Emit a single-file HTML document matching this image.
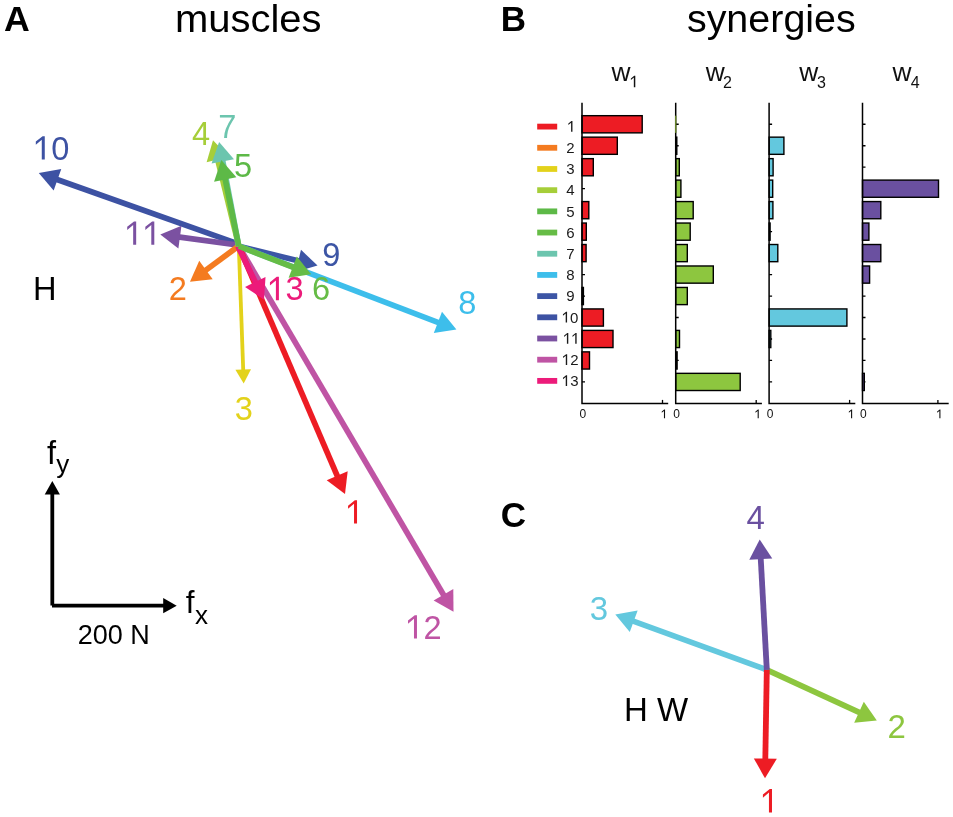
<!DOCTYPE html>
<html><head><meta charset="utf-8"><style>
html,body{margin:0;padding:0;background:#fff;}
svg{display:block;will-change:transform;}
text{font-family:"Liberation Sans",sans-serif;}
</style></head><body>
<svg width="953" height="817" viewBox="0 0 953 817">
<rect width="953" height="817" fill="#fff"/>
<line x1="238.80" y1="246.20" x2="444.49" y2="596.45" stroke="#BF54A4" stroke-width="5.7"/>
<polygon points="453.50,611.80 433.64,600.50 453.30,588.95" fill="#BF54A4"/>
<line x1="238.80" y1="246.20" x2="337.99" y2="477.64" stroke="#ED1C24" stroke-width="5.7"/>
<polygon points="345.00,494.00 326.72,480.29 347.68,471.31" fill="#ED1C24"/>
<line x1="237.50" y1="243.60" x2="55.58" y2="179.05" stroke="#3D52A3" stroke-width="5.7"/>
<polygon points="38.80,173.10 61.27,168.98 53.65,190.46" fill="#3D52A3"/>
<line x1="237.50" y1="245.00" x2="177.94" y2="236.90" stroke="#7B51A1" stroke-width="5.7"/>
<polygon points="160.30,234.50 181.46,225.87 178.38,248.46" fill="#7B51A1"/>
<line x1="238.80" y1="246.20" x2="300.22" y2="261.34" stroke="#3C55A5" stroke-width="5.7"/>
<polygon points="317.50,265.60 295.55,271.93 301.00,249.79" fill="#3C55A5"/>
<line x1="238.80" y1="246.20" x2="439.77" y2="323.04" stroke="#3DBEEB" stroke-width="5.7"/>
<polygon points="456.40,329.40 433.83,332.98 441.98,311.68" fill="#3DBEEB"/>
<line x1="237.50" y1="246.90" x2="204.36" y2="271.18" stroke="#F47B20" stroke-width="5.7"/>
<polygon points="190.00,281.70 199.23,260.80 212.71,279.19" fill="#F47B20"/>
<line x1="238.80" y1="246.20" x2="243.27" y2="371.51" stroke="#E3D21B" stroke-width="3.8"/>
<polygon points="243.70,383.50 235.41,369.79 251.00,369.23" fill="#E3D21B"/>
<line x1="237.80" y1="246.20" x2="256.17" y2="283.71" stroke="#EC1B7A" stroke-width="5.7"/>
<polygon points="264.00,299.70 245.05,286.93 265.53,276.90" fill="#EC1B7A"/>
<line x1="238.80" y1="246.20" x2="217.21" y2="157.50" stroke="#A6CE39" stroke-width="5.7"/>
<polygon points="213.00,140.20 228.76,156.74 206.61,162.13" fill="#A6CE39"/>
<line x1="238.80" y1="246.20" x2="222.40" y2="159.39" stroke="#6CC5AE" stroke-width="5.7"/>
<polygon points="219.10,141.90 233.98,159.24 211.57,163.47" fill="#6CC5AE"/>
<line x1="238.80" y1="246.20" x2="224.84" y2="177.44" stroke="#5DB947" stroke-width="5.7"/>
<polygon points="221.30,160.00 236.41,177.14 214.07,181.67" fill="#5DB947"/>
<line x1="238.80" y1="246.20" x2="294.60" y2="267.78" stroke="#66BC46" stroke-width="5.7"/>
<polygon points="311.20,274.20 288.62,277.69 296.84,256.43" fill="#66BC46"/>
<polygon points="44.77,159.50 44.77,136.16 42.59,136.16 35.81,141.54 35.81,144.73 41.77,139.74 41.77,159.50" fill="#3D52A3"/>
<text x="51.32" y="159.50" font-size="32.6" fill="#3D52A3">0</text>
<polygon points="136.17,244.80 136.17,221.46 133.99,221.46 127.20,226.84 127.20,230.03 133.17,225.04 133.17,244.80" fill="#7B51A1"/>
<polygon points="154.30,244.80 154.30,221.46 152.11,221.46 145.33,226.84 145.33,230.03 151.30,225.04 151.30,244.80" fill="#7B51A1"/>
<text x="168.80" y="300.30" font-size="32.6" fill="#F47B20">2</text>
<text x="191.98" y="144.60" font-size="32.6" fill="#A6CE39">4</text>
<text x="218.35" y="138.00" font-size="32.6" fill="#6CC5AE">7</text>
<text x="234.00" y="176.80" font-size="32.6" fill="#5DB947">5</text>
<text x="322.26" y="266.10" font-size="32.6" fill="#3C55A5">9</text>
<polygon points="278.90,300.20 278.90,276.86 276.72,276.86 269.94,282.24 269.94,285.43 275.90,280.44 275.90,300.20" fill="#EC1B7A"/>
<text x="285.46" y="300.20" font-size="32.6" fill="#EC1B7A">3</text>
<text x="311.93" y="300.20" font-size="32.6" fill="#66BC46">6</text>
<text x="458.20" y="314.10" font-size="32.6" fill="#3DBEEB">8</text>
<text x="234.78" y="420.30" font-size="32.6" fill="#E3D21B">3</text>
<polygon points="357.03,523.60 357.03,500.26 354.85,500.26 348.07,505.64 348.07,508.83 354.03,503.84 354.03,523.60" fill="#ED1C24"/>
<polygon points="416.97,638.50 416.97,615.16 414.79,615.16 408.01,620.54 408.01,623.73 413.98,618.74 413.98,638.50" fill="#BF54A4"/>
<text x="423.53" y="638.50" font-size="32.6" fill="#BF54A4">2</text>
<text x="32.91" y="300.20" font-size="32.6" fill="#000">H</text>
<path d="M52.3,493 V605.5" fill="none" stroke="#000" stroke-width="3.8"/>
<path d="M52,605.65 H164" fill="none" stroke="#000" stroke-width="3.6"/>
<polygon points="52.3,480.9 44.7,494.6 59.9,494.6" fill="#000"/>
<polygon points="176.7,605.7 163.2,598.1 163.2,613.3" fill="#000"/>
<text x="47.11" y="463.60" font-size="32.5" fill="#000">f</text>
<text x="56.34" y="473.11" font-size="26" fill="#000">y</text>
<text x="185.73" y="612.80" font-size="31.5" fill="#000">f</text>
<text x="194.98" y="623.60" font-size="26" fill="#000">x</text>
<text x="77.65" y="644.23" font-size="27" fill="#000">200 N</text>
<text transform="translate(4.11,30.90) scale(1.02,1)" font-size="35" fill="#000" font-weight="bold">A</text>
<text transform="translate(174.90,31.90) scale(1.025,1)" font-size="39" fill="#000">muscles</text>
<text x="500.64" y="31.10" font-size="35" fill="#000" font-weight="bold">B</text>
<text transform="translate(686.91,31.90) scale(1.012,1)" font-size="39" fill="#000">synergies</text>
<text x="500.70" y="527.15" font-size="35" fill="#000" font-weight="bold">C</text>
<path d="M582.00,124.27h3M582.00,145.74h3M582.00,167.21h3M582.00,188.69h3M582.00,210.16h3M582.00,231.63h3M582.00,253.10h3M582.00,274.57h3M582.00,296.04h3M582.00,317.51h3M582.00,338.99h3M582.00,360.46h3M582.00,381.93h3" stroke="#000" stroke-width="1.3"/>
<rect x="582.00" y="115.68" width="60.20" height="17.18" fill="#ED1C24" stroke="#000" stroke-width="1.4"/>
<rect x="582.00" y="137.15" width="35.30" height="17.18" fill="#ED1C24" stroke="#000" stroke-width="1.4"/>
<rect x="582.00" y="158.63" width="11.30" height="17.18" fill="#ED1C24" stroke="#000" stroke-width="1.4"/>
<rect x="582.00" y="201.57" width="6.80" height="17.18" fill="#ED1C24" stroke="#000" stroke-width="1.4"/>
<rect x="582.00" y="223.04" width="4.30" height="17.18" fill="#ED1C24" stroke="#000" stroke-width="1.4"/>
<rect x="582.00" y="244.51" width="4.10" height="17.18" fill="#ED1C24" stroke="#000" stroke-width="1.4"/>
<rect x="582.00" y="287.45" width="1.40" height="17.18" fill="#ED1C24" stroke="#000" stroke-width="1.4"/>
<rect x="582.00" y="308.93" width="21.40" height="17.18" fill="#ED1C24" stroke="#000" stroke-width="1.4"/>
<rect x="582.00" y="330.40" width="31.00" height="17.18" fill="#ED1C24" stroke="#000" stroke-width="1.4"/>
<rect x="582.00" y="351.87" width="7.50" height="17.18" fill="#ED1C24" stroke="#000" stroke-width="1.4"/>
<path d="M662.50,403.40v-3.5" stroke="#000" stroke-width="1.3"/>
<path d="M582.00,102.80V403.40H668.20" fill="none" stroke="#000" stroke-width="1.5"/>
<text x="579.55" y="418.20" font-size="12" fill="#111">0</text>
<polygon points="665.05,418.20 665.05,409.61 664.25,409.61 661.75,411.59 661.75,412.76 663.95,410.93 663.95,418.20" fill="#111"/>
<path d="M675.70,124.27h3M675.70,145.74h3M675.70,167.21h3M675.70,188.69h3M675.70,210.16h3M675.70,231.63h3M675.70,253.10h3M675.70,274.57h3M675.70,296.04h3M675.70,317.51h3M675.70,338.99h3M675.70,360.46h3M675.70,381.93h3" stroke="#000" stroke-width="1.3"/>
<rect x="675.70" y="137.15" width="1.10" height="17.18" fill="#8DC63F" stroke="#000" stroke-width="1.4"/>
<rect x="675.70" y="158.63" width="3.60" height="17.18" fill="#8DC63F" stroke="#000" stroke-width="1.4"/>
<rect x="675.70" y="180.10" width="5.20" height="17.18" fill="#8DC63F" stroke="#000" stroke-width="1.4"/>
<rect x="675.70" y="201.57" width="17.50" height="17.18" fill="#8DC63F" stroke="#000" stroke-width="1.4"/>
<rect x="675.70" y="223.04" width="14.50" height="17.18" fill="#8DC63F" stroke="#000" stroke-width="1.4"/>
<rect x="675.70" y="244.51" width="11.60" height="17.18" fill="#8DC63F" stroke="#000" stroke-width="1.4"/>
<rect x="675.70" y="265.98" width="37.60" height="17.18" fill="#8DC63F" stroke="#000" stroke-width="1.4"/>
<rect x="675.70" y="287.45" width="11.60" height="17.18" fill="#8DC63F" stroke="#000" stroke-width="1.4"/>
<rect x="675.70" y="330.40" width="3.80" height="17.18" fill="#8DC63F" stroke="#000" stroke-width="1.4"/>
<rect x="675.70" y="351.87" width="1.40" height="17.18" fill="#8DC63F" stroke="#000" stroke-width="1.4"/>
<rect x="675.70" y="373.34" width="64.50" height="17.18" fill="#8DC63F" stroke="#000" stroke-width="1.4"/>
<path d="M756.20,403.40v-3.5" stroke="#000" stroke-width="1.3"/>
<path d="M675.70,102.80V403.40H761.90" fill="none" stroke="#000" stroke-width="1.5"/>
<rect x="675.10" y="115.68" width="1.3" height="17.18" fill="#6f8f2c"/>
<text x="673.25" y="418.20" font-size="12" fill="#111">0</text>
<polygon points="758.75,418.20 758.75,409.61 757.95,409.61 755.45,411.59 755.45,412.76 757.65,410.93 757.65,418.20" fill="#111"/>
<path d="M769.10,124.27h3M769.10,145.74h3M769.10,167.21h3M769.10,188.69h3M769.10,210.16h3M769.10,231.63h3M769.10,253.10h3M769.10,274.57h3M769.10,296.04h3M769.10,317.51h3M769.10,338.99h3M769.10,360.46h3M769.10,381.93h3" stroke="#000" stroke-width="1.3"/>
<rect x="769.10" y="137.15" width="14.80" height="17.18" fill="#63C8DE" stroke="#000" stroke-width="1.4"/>
<rect x="769.10" y="158.63" width="4.00" height="17.18" fill="#63C8DE" stroke="#000" stroke-width="1.4"/>
<rect x="769.10" y="180.10" width="3.60" height="17.18" fill="#63C8DE" stroke="#000" stroke-width="1.4"/>
<rect x="769.10" y="201.57" width="3.80" height="17.18" fill="#63C8DE" stroke="#000" stroke-width="1.4"/>
<rect x="769.10" y="223.04" width="1.00" height="17.18" fill="#63C8DE" stroke="#000" stroke-width="1.4"/>
<rect x="769.10" y="244.51" width="8.70" height="17.18" fill="#63C8DE" stroke="#000" stroke-width="1.4"/>
<rect x="769.10" y="308.93" width="77.80" height="17.18" fill="#63C8DE" stroke="#000" stroke-width="1.4"/>
<rect x="769.10" y="330.40" width="1.70" height="17.18" fill="#63C8DE" stroke="#000" stroke-width="1.4"/>
<path d="M849.60,403.40v-3.5" stroke="#000" stroke-width="1.3"/>
<path d="M769.10,102.80V403.40H855.30" fill="none" stroke="#000" stroke-width="1.5"/>
<text x="766.65" y="418.20" font-size="12" fill="#111">0</text>
<polygon points="852.15,418.20 852.15,409.61 851.35,409.61 848.85,411.59 848.85,412.76 851.05,410.93 851.05,418.20" fill="#111"/>
<path d="M862.50,124.27h3M862.50,145.74h3M862.50,167.21h3M862.50,188.69h3M862.50,210.16h3M862.50,231.63h3M862.50,253.10h3M862.50,274.57h3M862.50,296.04h3M862.50,317.51h3M862.50,338.99h3M862.50,360.46h3M862.50,381.93h3" stroke="#000" stroke-width="1.3"/>
<rect x="862.50" y="180.10" width="76.00" height="17.18" fill="#6A50A0" stroke="#000" stroke-width="1.4"/>
<rect x="862.50" y="201.57" width="18.30" height="17.18" fill="#6A50A0" stroke="#000" stroke-width="1.4"/>
<rect x="862.50" y="223.04" width="6.40" height="17.18" fill="#6A50A0" stroke="#000" stroke-width="1.4"/>
<rect x="862.50" y="244.51" width="18.30" height="17.18" fill="#6A50A0" stroke="#000" stroke-width="1.4"/>
<rect x="862.50" y="265.98" width="7.10" height="17.18" fill="#6A50A0" stroke="#000" stroke-width="1.4"/>
<rect x="862.50" y="373.34" width="1.80" height="17.18" fill="#6A50A0" stroke="#000" stroke-width="1.4"/>
<path d="M937.90,403.40v-3.5" stroke="#000" stroke-width="1.3"/>
<path d="M862.50,102.80V403.40H948.70" fill="none" stroke="#000" stroke-width="1.5"/>
<text x="860.05" y="418.20" font-size="12" fill="#111">0</text>
<polygon points="940.45,418.20 940.45,409.61 939.65,409.61 937.15,411.59 937.15,412.76 939.35,410.93 939.35,418.20" fill="#111"/>
<text x="611.57" y="81.30" font-size="26.3" fill="#111">w</text>
<polygon points="635.30,87.20 635.30,75.74 634.23,75.74 630.90,78.38 630.90,79.95 633.83,77.50 633.83,87.20" fill="#111"/>
<text x="705.67" y="81.30" font-size="26.3" fill="#111">w</text>
<text x="722.90" y="87.60" font-size="16" fill="#111">2</text>
<text x="799.17" y="81.30" font-size="26.3" fill="#111">w</text>
<text x="817.10" y="87.60" font-size="16" fill="#111">3</text>
<text x="892.57" y="81.30" font-size="26.3" fill="#111">w</text>
<text x="910.84" y="87.60" font-size="16" fill="#111">4</text>
<rect x="537.2" y="123.70" width="20" height="5.8" fill="#ED1C24"/>
<polygon points="572.46,131.80 572.46,121.06 571.46,121.06 568.34,123.53 568.34,125.00 571.08,122.71 571.08,131.80" fill="#1a1a1a"/>
<rect x="537.2" y="144.89" width="20" height="5.8" fill="#F47B20"/>
<text x="566.24" y="152.99" font-size="15" fill="#1a1a1a">2</text>
<rect x="537.2" y="166.08" width="20" height="5.8" fill="#E3D21B"/>
<text x="566.27" y="174.18" font-size="15" fill="#1a1a1a">3</text>
<rect x="537.2" y="187.27" width="20" height="5.8" fill="#A6CE39"/>
<text x="566.27" y="195.37" font-size="15" fill="#1a1a1a">4</text>
<rect x="537.2" y="208.46" width="20" height="5.8" fill="#5DB947"/>
<text x="566.24" y="216.56" font-size="15" fill="#1a1a1a">5</text>
<rect x="537.2" y="229.65" width="20" height="5.8" fill="#66BC46"/>
<text x="566.18" y="237.75" font-size="15" fill="#1a1a1a">6</text>
<rect x="537.2" y="250.84" width="20" height="5.8" fill="#6CC5AE"/>
<text x="566.24" y="258.94" font-size="15" fill="#1a1a1a">7</text>
<rect x="537.2" y="272.03" width="20" height="5.8" fill="#3DBEEB"/>
<text x="566.24" y="280.13" font-size="15" fill="#1a1a1a">8</text>
<rect x="537.2" y="293.22" width="20" height="5.8" fill="#3C55A5"/>
<text x="566.22" y="301.32" font-size="15" fill="#1a1a1a">9</text>
<rect x="537.2" y="314.41" width="20" height="5.8" fill="#3D52A3"/>
<polygon points="567.07,322.51 567.07,311.77 566.07,311.77 562.95,314.25 562.95,315.71 565.69,313.42 565.69,322.51" fill="#1a1a1a"/>
<text x="570.09" y="322.51" font-size="15" fill="#1a1a1a">0</text>
<rect x="537.2" y="335.60" width="20" height="5.8" fill="#7B51A1"/>
<polygon points="568.29,343.70 568.29,332.96 567.29,332.96 564.17,335.44 564.17,336.90 566.91,334.61 566.91,343.70" fill="#1a1a1a"/>
<polygon points="576.63,343.70 576.63,332.96 575.63,332.96 572.51,335.44 572.51,336.90 575.25,334.61 575.25,343.70" fill="#1a1a1a"/>
<rect x="537.2" y="356.79" width="20" height="5.8" fill="#BF54A4"/>
<polygon points="567.17,364.89 567.17,354.15 566.16,354.15 563.04,356.62 563.04,358.09 565.79,355.80 565.79,364.89" fill="#1a1a1a"/>
<text x="570.18" y="364.89" font-size="15" fill="#1a1a1a">2</text>
<rect x="537.2" y="377.98" width="20" height="5.8" fill="#EC1B7A"/>
<polygon points="567.11,386.08 567.11,375.34 566.11,375.34 562.99,377.81 562.99,379.28 565.73,376.99 565.73,386.08" fill="#1a1a1a"/>
<text x="570.13" y="386.08" font-size="15" fill="#1a1a1a">3</text>
<line x1="766.80" y1="669.80" x2="631.84" y2="620.63" stroke="#63C8DE" stroke-width="5.8"/>
<polygon points="615.30,614.60 637.65,610.50 629.78,632.11" fill="#63C8DE"/>
<line x1="766.80" y1="669.80" x2="860.82" y2="713.13" stroke="#8DC63F" stroke-width="5.8"/>
<polygon points="876.80,720.50 854.19,722.74 863.81,701.85" fill="#8DC63F"/>
<line x1="766.80" y1="669.80" x2="765.29" y2="760.60" stroke="#ED1C24" stroke-width="5.8"/>
<polygon points="765.00,778.20 753.83,758.41 776.82,758.79" fill="#ED1C24"/>
<line x1="766.80" y1="669.80" x2="760.66" y2="557.17" stroke="#6A50A0" stroke-width="5.8"/>
<polygon points="759.70,539.60 772.25,558.54 749.28,559.80" fill="#6A50A0"/>
<text x="746.47" y="528.90" font-size="33" fill="#6A50A0">4</text>
<text x="589.82" y="620.00" font-size="33" fill="#63C8DE">3</text>
<polygon points="771.99,812.60 771.99,788.97 769.78,788.97 762.91,794.42 762.91,797.65 768.95,792.60 768.95,812.60" fill="#ED1C24"/>
<text x="887.39" y="737.80" font-size="33" fill="#8DC63F">2</text>
<text x="624.08" y="720.60" font-size="33" fill="#000">H W</text>
</svg></body></html>
